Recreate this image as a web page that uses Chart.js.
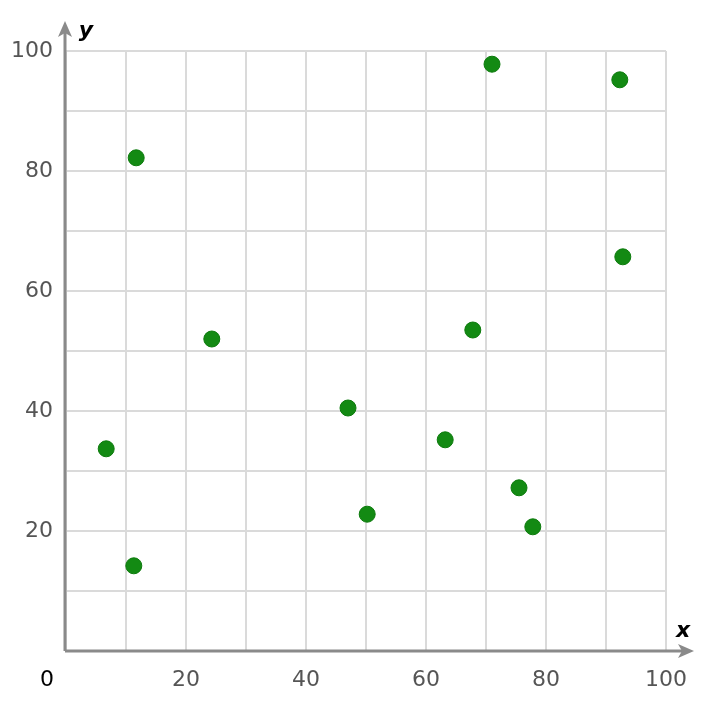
<!DOCTYPE html>
<html>
<head>
<meta charset="utf-8">
<script src="https://cdn.jsdelivr.net/npm/chart.js@4/dist/chart.umd.min.js"></script>
<style>
  body { margin: 0; background: #fff; }
  #box { width: 724px; height: 710px; }
</style>
</head>
<body>
<div id="box"><canvas id="chart" width="724" height="710"></canvas></div>
<script>
// data
var xValues = [6.7, 11.3, 11.7, 24.3, 47, 50.2, 63.2, 67.8, 71, 75.5, 77.8, 92.3, 92.8];
var yValues = [33.7, 14.2, 82.2, 52, 40.5, 22.8, 35.2, 53.5, 97.8, 27.2, 20.7, 95.2, 65.7];
var tickLabels = [20, 40, 60, 80, 100];

var points = xValues.map(function (x, i) { return { x: x, y: yValues[i] }; });

// axes with arrows + the axis names
var axisArrows = {
    id: 'axisArrows',
    afterDraw: function (chart) {
        var c = chart.ctx;
        var a = chart.chartArea;
        c.save();
        c.strokeStyle = '#8a8a8a';
        c.fillStyle = '#8a8a8a';
        c.lineWidth = 3;
        c.beginPath();
        c.moveTo(a.left - 1, a.bottom);
        c.lineTo(a.left - 1, a.top - 22);
        c.moveTo(a.left - 1, a.bottom);
        c.lineTo(a.right + 22, a.bottom);
        c.stroke();
        // y arrow
        c.beginPath();
        c.moveTo(a.left - 1, a.top - 30);
        c.lineTo(a.left - 8, a.top - 14);
        c.lineTo(a.left - 1, a.top - 18);
        c.lineTo(a.left + 6, a.top - 14);
        c.closePath();
        c.fill();
        // x arrow
        c.beginPath();
        c.moveTo(a.right + 28, a.bottom);
        c.lineTo(a.right + 12, a.bottom - 7);
        c.lineTo(a.right + 16, a.bottom);
        c.lineTo(a.right + 12, a.bottom + 7);
        c.closePath();
        c.fill();
        // labels
        c.fillStyle = '#000';
        c.font = 'italic bold 22px "DejaVu Sans"';
        c.textBaseline = 'middle';
        c.textAlign = 'center';
        c.fillText('y', a.left + 20, a.top - 20);
        c.fillText('x', a.right + 17, a.bottom - 20);
        c.font = '22px "DejaVu Sans"';
        c.fillText('0', a.left - 19, a.bottom + 29);
        c.restore();
    }
};

var ctx = document.getElementById('chart');

var chartGraph = new Chart(ctx, {
    type: 'scatter',
    data: {
        datasets: [{
            data: points,
            pointRadius: 8,
            pointHoverRadius: 8,
            backgroundColor: '#138a13',
            borderColor: '#0c7a0c',
            borderWidth: 1
        }]
    },
    options: {
        responsive: false,
        animation: false,
        devicePixelRatio: 1,
        layout: { padding: { left: 0, right: 58, top: 51, bottom: 0 } },
        plugins: { legend: { display: false }, tooltip: { enabled: false } },
        scales: {
            x: {
                type: 'linear',
                min: 0,
                max: 100,
                afterFit: function (s) { s.height = 59; },
                border: { display: false },
                grid: { color: '#dadada', lineWidth: 2, drawTicks: false },
                ticks: {
                    stepSize: 10,
                    padding: 16,
                    autoSkip: false,
                    maxRotation: 0,
                    color: '#555',
                    font: { family: 'DejaVu Sans', size: 22 },
                    callback: function (v) { return tickLabels.indexOf(v) >= 0 ? String(v) : ''; }
                }
            },
            y: {
                type: 'linear',
                min: 0,
                max: 100,
                afterFit: function (s) { s.width = 66; },
                border: { display: false },
                grid: { color: '#dadada', lineWidth: 2, drawTicks: false },
                ticks: {
                    stepSize: 10,
                    padding: 13,
                    autoSkip: false,
                    color: '#555',
                    font: { family: 'DejaVu Sans', size: 22 },
                    callback: function (v) { return tickLabels.indexOf(v) >= 0 ? String(v) : ''; }
                }
            }
        }
    },
    plugins: [axisArrows]
});
</script>
</body>
</html>
